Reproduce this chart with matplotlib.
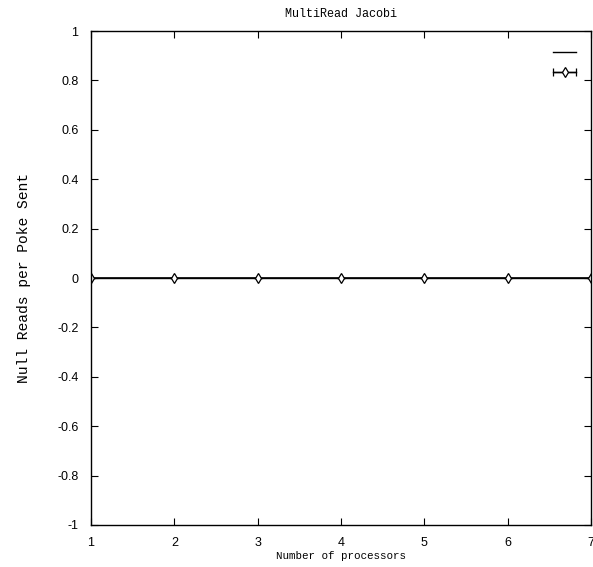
import matplotlib
matplotlib.use("Agg")
import matplotlib.pyplot as plt
import numpy as np
from matplotlib.lines import Line2D
from matplotlib.legend_handler import HandlerErrorbar

processors = [1, 2, 3, 4, 5, 6, 7]
null_reads = [0, 0, 0, 0, 0, 0, 0]
null_reads_err = [0, 0, 0, 0, 0, 0, 0]

yticks = [-1, -0.8, -0.6, -0.4, -0.2, 0, 0.2, 0.4, 0.6, 0.8, 1]
ytick_labels = ['-1', '-0.8', '-0.6', '-0.4', '-0.2', '0', '0.2', '0.4', '0.6', '0.8', '1']

mono = 'Liberation Mono'
sans = 'Liberation Sans'

fig = plt.figure(figsize=(5.93, 5.67), dpi=100)
ax = fig.add_axes([0.1535, 0.0741, 0.8431, 0.8712])

ax.plot(processors, null_reads, color='black', linewidth=1.2)
ax.errorbar(processors, null_reads, yerr=null_reads_err, color='black',
            marker='d', markersize=5, markerfacecolor='white',
            markeredgewidth=0.9, linewidth=1.0, capsize=3)

ax.set_xlim(1, 7)
ax.set_ylim(-1, 1)
ax.set_xticks(processors)
ax.set_xticklabels([str(p) for p in processors], fontfamily=sans, fontsize=9)
ax.set_yticks(yticks)
ax.set_yticklabels(ytick_labels, fontfamily=sans, fontsize=9)
ax.tick_params(axis='x', direction='in', top=True, length=5, width=0.8, pad=9)
ax.tick_params(axis='y', direction='in', right=True, length=5, width=0.8, pad=9)
for s in ax.spines.values():
    s.set_linewidth(1.0)

ax.set_title('MultiRead Jacobi', fontfamily=mono, fontsize=8.5, pad=10)
ax.set_xlabel('Number of processors', fontfamily=mono, fontsize=7.8, labelpad=1)
ax.set_ylabel('Null Reads per Poke Sent', fontfamily=mono, fontsize=10.5, labelpad=19)

# legend keys: plain line and a horizontal error bar with diamond
line_key = Line2D([], [], color='black', linewidth=1.0)
err_key = ax.errorbar([np.nan], [np.nan], xerr=[np.nan], color='black',
                      marker='d', markersize=5, markerfacecolor='white',
                      markeredgewidth=0.9, linewidth=1.0, capsize=3)
ax.legend([line_key, err_key], ['', ''], loc='upper right', frameon=False,
          handlelength=1.6, handletextpad=0, borderaxespad=0.7, labelspacing=0.4,
          handler_map={err_key: HandlerErrorbar(xerr_size=0.8)})

fig.savefig('out.png', dpi=100)
